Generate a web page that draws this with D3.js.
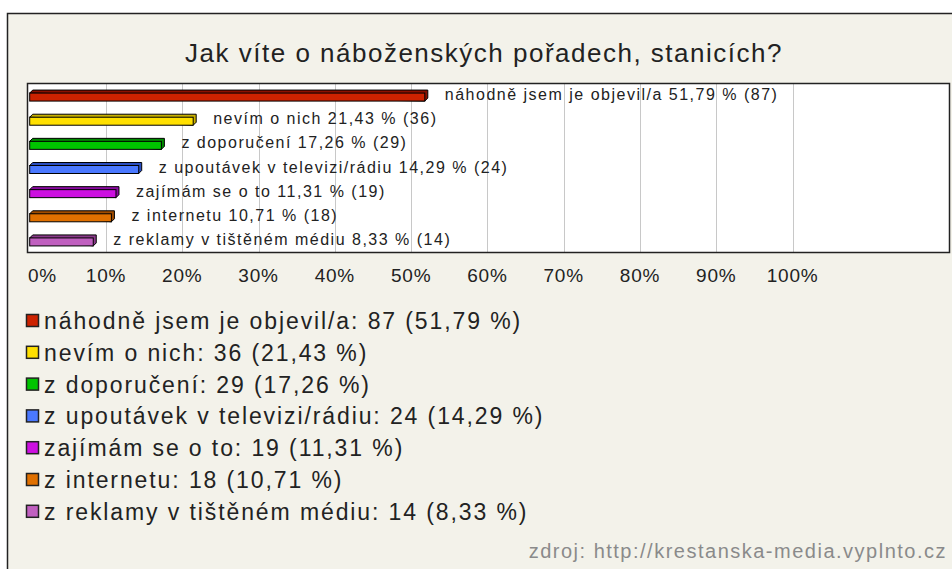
<!DOCTYPE html>
<html>
<head>
<meta charset="utf-8">
<script src="https://cdn.jsdelivr.net/npm/d3@7"></script>
<style>
  body { margin: 0; background: #fff; }
  text { font-family: "Liberation Sans", Arial, sans-serif; }
</style>
</head>
<body>
<div id="chart"></div>
<script>
// data
var categories = ['náhodně jsem je objevil/a', 'nevím o nich', 'z doporučení', 'z upoutávek v televizi/rádiu', 'zajímám se o to', 'z internetu', 'z reklamy v tištěném médiu']
var counts = [87, 36, 29, 24, 19, 18, 14]
var percents = [51.79, 21.43, 17.26, 14.29, 11.31, 10.71, 8.33]
var frontColors = ['#cc2200', '#ffe000', '#00c400', '#4a78ff', '#cc10e0', '#e07000', '#c060c0']
var topColors = ['#8a1000', '#c8b000', '#008a00', '#2a4ec0', '#8a0aa0', '#a04c00', '#8a3a8a']
var ticks = [0, 10, 20, 30, 40, 50, 60, 70, 80, 90, 100]

var chart = {
  width: 952,
  height: 569,
}

var fmt = function (v) { return v.toFixed(2).replace('.', ',') }

chart.svg = d3.select('#chart')
  .append('svg')
  .attr('width', chart.width)
  .attr('height', chart.height)

// outer frame
chart.svg.append('rect')
  .attr('x', 7.5).attr('y', 13.5)
  .attr('width', 1000).attr('height', 600)
  .attr('fill', '#f3f2ea')
  .attr('stroke', '#222')
  .attr('stroke-width', 1.5)

chart.svg.append('text')
  .attr('x', 484).attr('y', 62)
  .attr('text-anchor', 'middle')
  .style('font-size', '26px')
  .style('letter-spacing', '1.5px')
  .attr('fill', '#222')
  .text('Jak víte o náboženských pořadech, stanicích?')

// plot box
var plot = { left: 27, right: 949, top: 83, bottom: 252 }

chart.svg.append('rect')
  .attr('x', plot.left + 0.5).attr('y', plot.top + 0.5)
  .attr('width', plot.right - plot.left).attr('height', plot.bottom - plot.top)
  .attr('fill', '#fff')

var x = d3.scaleLinear().domain([0, 100]).range([29.7, 792.6])
var y = d3.scaleBand().domain(categories).range([plot.top, plot.bottom])

chart.svg.selectAll('line.grid')
  .data(ticks.slice(1))
  .enter()
  .append('line')
  .attr('class', 'grid')
  .attr('x1', function (d) { return Math.round(x(d)) + 0.5 })
  .attr('x2', function (d) { return Math.round(x(d)) + 0.5 })
  .attr('y1', plot.top)
  .attr('y2', plot.bottom)
  .attr('stroke', '#c8c8c8')
  .attr('stroke-width', 1)

chart.svg.append('rect')
  .attr('x', plot.left + 0.5).attr('y', plot.top + 0.5)
  .attr('width', plot.right - plot.left).attr('height', plot.bottom - plot.top)
  .attr('fill', 'none')
  .attr('stroke', '#222')
  .attr('stroke-width', 1.5)

// tick labels
chart.svg.selectAll('text.tick')
  .data(ticks)
  .enter()
  .append('text')
  .attr('class', 'tick')
  .attr('x', function (d) { return d === 0 ? 28 : x(d) })
  .attr('y', 282)
  .attr('text-anchor', function (d) { return d === 0 ? 'start' : 'middle' })
  .style('font-size', '19px')
  .style('letter-spacing', '0.8px')
  .attr('fill', '#222')
  .text(function (d) { return d + '%' })

// 3d bars
var depth = 3
var barH = 8
var bars = chart.svg.selectAll('g.bar')
  .data(categories)
  .enter()
  .append('g')
  .attr('class', 'bar')

bars.each(function (c, i) {
  var g = d3.select(this)
  var x0 = x(0)
  var x1 = x(percents[i])
  var top = y(c) + y.bandwidth() / 2 - 2
  var bottom = top + barH
  g.append('path')
    .attr('d', `M ${x0} ${top} L ${x0 + depth} ${top - depth} L ${x1 + depth} ${top - depth} L ${x1 + depth} ${bottom - depth} L ${x1} ${bottom} Z`)
    .attr('fill', topColors[i])
    .attr('stroke', '#000')
    .attr('stroke-width', 1)
  g.append('rect')
    .attr('x', x0).attr('y', top)
    .attr('width', x1 - x0).attr('height', barH)
    .attr('fill', frontColors[i])
    .attr('stroke', '#000')
    .attr('stroke-width', 1)
  g.append('text')
    .attr('x', x1 + 20)
    .attr('y', bottom - 1)
    .style('font-size', '16px')
    .style('letter-spacing', '1.5px')
    .attr('fill', '#222')
    .text(`${c} ${fmt(percents[i])} % (${counts[i]})`)
})

// legend
var legend = chart.svg.selectAll('g.legend')
  .data(categories)
  .enter()
  .append('g')
  .attr('class', 'legend')
  .attr('transform', function (d, i) { return `translate(26, ${321 + i * 31.8})` })

legend.append('rect')
  .attr('x', 0.5).attr('y', -6.5)
  .attr('width', 12).attr('height', 12)
  .attr('fill', function (d, i) { return frontColors[i] })
  .attr('stroke', '#222')
  .attr('stroke-width', 1.5)

legend.append('text')
  .attr('x', 18)
  .attr('y', 0)
  .attr('dy', '0.35em')
  .style('font-size', '23px')
  .style('letter-spacing', '1.9px')
  .attr('fill', '#222')
  .text(function (d, i) { return `${d}: ${counts[i]} (${fmt(percents[i])} %)` })

chart.svg.append('text')
  .attr('x', 947).attr('y', 558)
  .attr('text-anchor', 'end')
  .style('font-size', '20px')
  .style('letter-spacing', '1.5px')
  .attr('fill', '#8a8a8a')
  .text('zdroj: http://krestanska-media.vyplnto.cz')
</script>
</body>
</html>
